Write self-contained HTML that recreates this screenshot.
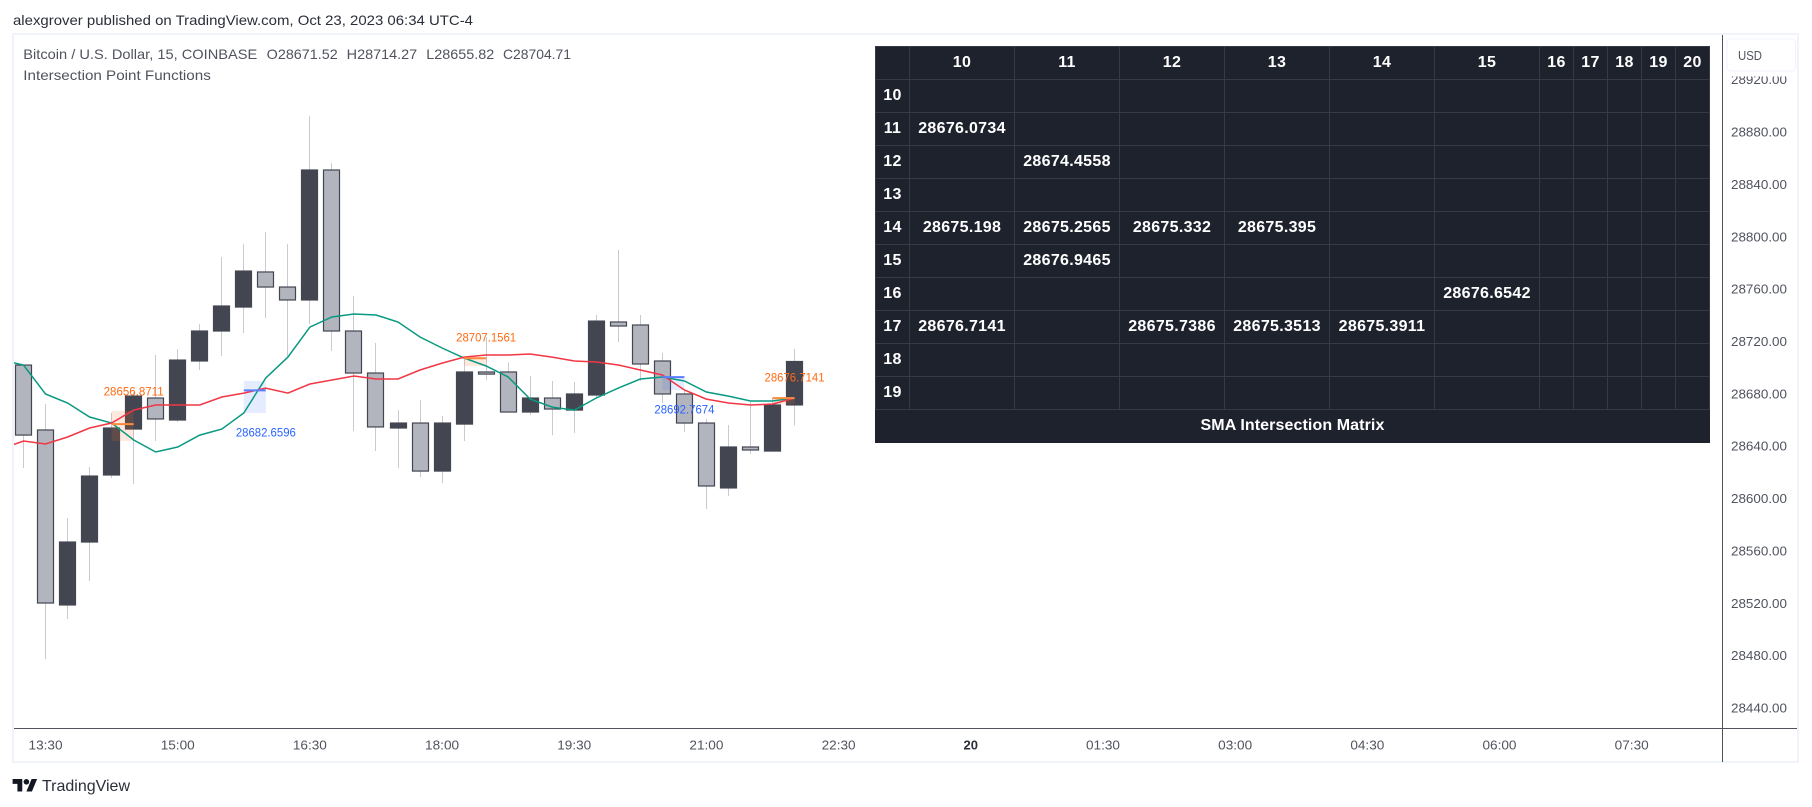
<!DOCTYPE html>
<html lang="en">
<head>
<meta charset="utf-8">
<title>Bitcoin / U.S. Dollar chart with SMA Intersection Matrix</title>
<style>
html,body{margin:0;padding:0;background:#fff;width:1812px;height:807px;overflow:hidden}
body{position:relative;font-family:"Liberation Sans",sans-serif}
#chart{position:absolute;left:0;top:0}
#matrix{position:absolute;left:875px;top:46px;width:834px;height:397px;border-collapse:collapse;table-layout:fixed;background:#1e222d;color:#fff;font:bold 16px "Liberation Sans",sans-serif;letter-spacing:.3px;text-align:center}
#matrix td{border:1px solid #363a45;padding:0;height:32px;line-height:32px;overflow:hidden;white-space:nowrap}
#matrix td.t{border-color:#1e222d;letter-spacing:.1px}
</style>
</head>
<body>
<svg id="chart" width="1812" height="807" viewBox="0 0 1812 807" xmlns="http://www.w3.org/2000/svg" font-family="'Liberation Sans',sans-serif">
  <text x="13" y="25" font-size="14" fill="#2a2e39" textLength="460" lengthAdjust="spacingAndGlyphs">alexgrover published on TradingView.com, Oct 23, 2023 06:34 UTC-4</text>
  <rect x="13" y="34" width="1785" height="728" fill="#fff" stroke="#f0f3fa" stroke-width="2"/>
  <g id="marks"></g>
  <g font-size="14" fill="#50535e">
    <text x="23.3" y="59" textLength="234" lengthAdjust="spacingAndGlyphs">Bitcoin / U.S. Dollar, 15, COINBASE</text>
    <text x="266.7" y="59" textLength="71" lengthAdjust="spacingAndGlyphs">O28671.52</text>
    <text x="346.7" y="59" textLength="70.5" lengthAdjust="spacingAndGlyphs">H28714.27</text>
    <text x="426.3" y="59" textLength="68" lengthAdjust="spacingAndGlyphs">L28655.82</text>
    <text x="503" y="59" textLength="68" lengthAdjust="spacingAndGlyphs">C28704.71</text>
    <text x="23.3" y="80" textLength="187.5" lengthAdjust="spacingAndGlyphs">Intersection Point Functions</text>
  </g>
  <line x1="1722.5" y1="35" x2="1722.5" y2="762" stroke="#50535e" stroke-width="1"/>
  <line x1="14" y1="728.5" x2="1797" y2="728.5" stroke="#50535e" stroke-width="1"/>
  <g id="priceAxis"></g>
  <g id="timeAxis"></g>
  <rect x="1724" y="71" width="72" height="5.5" fill="#fff"/>
  <rect x="1727" y="39" width="68.5" height="32" rx="4" fill="#fff" stroke="#f0f3fa" stroke-width="1"/>
  <text x="1738" y="60" font-size="13" fill="#50535e" textLength="24" lengthAdjust="spacingAndGlyphs">USD</text>
  <g>
    <path transform="translate(12.6 776.3) scale(.69)" fill="#131722" d="M14 22H7V11H0V4h14v18zM28 22h-8l7.5-18h8L28 22z"/>
    <circle cx="26.4" cy="781.8" r="2.8" fill="#131722"/>
    <text x="42" y="791" font-size="16" fill="#2a2e39" textLength="88" lengthAdjust="spacingAndGlyphs">TradingView</text>
  </g>
</svg>

<table id="matrix">
<colgroup><col style="width:34px"><col style="width:105px"><col style="width:105px"><col style="width:105px"><col style="width:105px"><col style="width:105px"><col style="width:105px"><col style="width:34px"><col style="width:34px"><col style="width:34px"><col style="width:34px"><col style="width:34px"></colgroup>
<tr><td></td><td>10</td><td>11</td><td>12</td><td>13</td><td>14</td><td>15</td><td>16</td><td>17</td><td>18</td><td>19</td><td>20</td></tr>
<tr><td>10</td><td></td><td></td><td></td><td></td><td></td><td></td><td></td><td></td><td></td><td></td><td></td></tr>
<tr><td>11</td><td>28676.0734</td><td></td><td></td><td></td><td></td><td></td><td></td><td></td><td></td><td></td><td></td></tr>
<tr><td>12</td><td></td><td>28674.4558</td><td></td><td></td><td></td><td></td><td></td><td></td><td></td><td></td><td></td></tr>
<tr><td>13</td><td></td><td></td><td></td><td></td><td></td><td></td><td></td><td></td><td></td><td></td><td></td></tr>
<tr><td>14</td><td>28675.198</td><td>28675.2565</td><td>28675.332</td><td>28675.395</td><td></td><td></td><td></td><td></td><td></td><td></td><td></td></tr>
<tr><td>15</td><td></td><td>28676.9465</td><td></td><td></td><td></td><td></td><td></td><td></td><td></td><td></td><td></td></tr>
<tr><td>16</td><td></td><td></td><td></td><td></td><td></td><td>28676.6542</td><td></td><td></td><td></td><td></td><td></td></tr>
<tr><td>17</td><td>28676.7141</td><td></td><td>28675.7386</td><td>28675.3513</td><td>28675.3911</td><td></td><td></td><td></td><td></td><td></td><td></td></tr>
<tr><td>18</td><td></td><td></td><td></td><td></td><td></td><td></td><td></td><td></td><td></td><td></td><td></td></tr>
<tr><td>19</td><td></td><td></td><td></td><td></td><td></td><td></td><td></td><td></td><td></td><td></td><td></td></tr>
<tr><td class="t" colspan="12">SMA Intersection Matrix</td></tr>
</table>

<script>
const opens  = [28702.0,28652.4,28518.7,28566.8,28618.0,28653.1,28676.8,28660.0,28705.1,28728.0,28746.3,28773.1,28761.6,28751.7,28851.0,28728.0,28695.9,28653.9,28657.7,28621.0,28656.9,28696.7,28696.7,28666.1,28676.8,28667.6,28679.1,28734.9,28732.6,28705.1,28679.9,28657.7,28608.1,28639.4,28636.3,28671.52];
const highs  = [28702.0,28672.2,28585.1,28624.1,28665.4,28681.4,28709.7,28714.2,28733.3,28784.5,28794.4,28803.6,28794.4,28892.2,28856.3,28754.7,28718.8,28667.6,28675.3,28663.1,28708.1,28723.4,28704.1,28693.6,28689.8,28689.0,28740.2,28789.9,28740.2,28711.2,28682.9,28660.8,28656.2,28673.8,28676.8,28714.27];
const lows   = [28623.3,28477.4,28508.0,28537.0,28615.7,28611.1,28644.0,28658.5,28698.2,28708.9,28726.5,28737.9,28708.9,28733.3,28712.7,28651.6,28636.3,28623.3,28616.5,28611.9,28644.0,28690.6,28666.1,28663.8,28648.5,28650.1,28677.0,28719.6,28689.8,28673.0,28650.8,28592.0,28601.9,28634.0,28636.3,28655.82];
const closes = [28648.5,28520.2,28566.8,28617.2,28653.9,28678.3,28660.8,28705.8,28728.0,28747.1,28773.8,28761.6,28751.7,28851.0,28728.0,28695.9,28654.7,28657.7,28621.0,28657.7,28696.7,28695.1,28666.1,28676.8,28668.4,28679.9,28735.6,28731.8,28702.8,28679.9,28657.7,28609.6,28639.4,28637.1,28671.5,28704.71];
const smaFast = [28705.8,28702.0,28679.9,28673.0,28662.3,28657.7,28644.7,28635.6,28639.4,28648.5,28653.1,28665.4,28692.1,28708.1,28731.0,28738.7,28741.0,28740.2,28734.9,28723.4,28715.0,28707.4,28701.3,28692.9,28676.0,28669.9,28667.6,28676.8,28684.4,28691.3,28692.9,28689.8,28681.4,28678.3,28674.5,28674.5,28676.8];
const smaSlow = [28637.9,28644.0,28641.7,28647.0,28653.9,28657.7,28667.6,28671.5,28671.5,28671.5,28677.6,28680.6,28684.4,28680.6,28687.5,28690.6,28693.6,28691.3,28691.3,28698.2,28703.5,28708.1,28709.7,28709.7,28710.4,28708.1,28705.1,28704.3,28702.0,28698.2,28694.4,28682.9,28676.0,28673.0,28671.5,28672.2,28676.8];
const crossBars   = [4,10,20,29,34];
const crossValues = [28656.8711,28682.6596,28707.1561,28692.7674,28676.7141];
const crossTops   = [28666.9,28689.8,28708.1,28693.6,28677.6];
const crossBottoms= [28644.0,28665.4,28701.3,28682.9,28672.2];
const crossKinds  = ['up','down','up','down','up'];
const priceTicks = [28920,28880,28840,28800,28760,28720,28680,28640,28600,28560,28520,28480,28440];
const timeLabels = ['13:30','15:00','16:30','18:00','19:30','21:00','22:30','20','01:30','03:00','04:30','06:00','07:30'];

const NS = 'http://www.w3.org/2000/svg';
function xOf(i){ return 23.5 + 22.03 * i; }
function yOf(p){ return 708 - (p - 28440) * 1.309; }
function make(parent, tag, attrs, txt){
  const el = document.createElementNS(NS, tag);
  for (const k in attrs) el.setAttribute(k, attrs[k]);
  if (txt !== undefined) el.textContent = txt;
  parent.appendChild(el);
  return el;
}
const marks = document.getElementById('marks');
const priceAxis = document.getElementById('priceAxis');
const timeAxis = document.getElementById('timeAxis');

opens.forEach(function(o, i){
  const wick = make(marks, 'line', {x1: Math.floor(xOf(i)) + .5, x2: Math.floor(xOf(i)) + .5, y1: yOf(highs[i]), y2: yOf(lows[i]), stroke: '#c9cacf', 'stroke-width': 1});
  
  
});
opens.forEach(function(o, i){
  const up = closes[i] >= o;
  const top = yOf(Math.max(o, closes[i]));
  const bottom = yOf(Math.min(o, closes[i]));
  const body = make(marks, 'rect', {x: Math.floor(xOf(i)) - 7.5, y: top, width: 16, height: Math.max(bottom - top, 1), fill: up ? '#434651' : '#b2b5be', stroke: '#434651', 'stroke-width': 1.2});
  
  
});
crossBars.forEach(function(b, i){
  const up = crossKinds[i] === 'up';
  const box = make(marks, 'rect', {x: xOf(b), y: yOf(crossTops[i]), width: xOf(b + 1) - xOf(b), height: yOf(crossBottoms[i]) - yOf(crossTops[i]), fill: up ? '#ff6d1f' : '#2962ff', 'fill-opacity': up ? .15 : .12});
  
  
});
function linePath(values){
  return values.map(function(v, i){ return xOf(i - 1).toFixed(1) + ',' + yOf(v).toFixed(1); }).join(' ');
}
const clip = make(marks, 'clipPath', {id: 'plotClip'});
make(clip, 'rect', {x: 14, y: 35, width: 1708, height: 693});
const fastLine = make(marks, 'polyline', {points: linePath(smaFast), fill: 'none', stroke: '#089981', 'stroke-width': 1.5, 'clip-path': 'url(#plotClip)'});


const slowLine = make(marks, 'polyline', {points: linePath(smaSlow), fill: 'none', stroke: '#f23645', 'stroke-width': 1.5, 'clip-path': 'url(#plotClip)'});


crossBars.forEach(function(b, i){
  const up = crossKinds[i] === 'up';
  const level = make(marks, 'line', {x1: xOf(b), x2: xOf(b + 1), y1: yOf(crossValues[i]), y2: yOf(crossValues[i]), stroke: up ? '#ff8a3d' : '#5b7fff', 'stroke-width': 2});
  
  
  const labelY = up ? yOf(crossTops[i]) - 15.5 : yOf(crossBottoms[i]) + 23.5;
  const label = make(marks, 'text', {x: xOf(b + 1), y: labelY, 'text-anchor': 'middle', 'font-size': 12, fill: up ? '#ff6a13' : '#2962ff', textLength: 60, lengthAdjust: 'spacingAndGlyphs'}, crossValues[i].toFixed(4));
  
  
});
priceTicks.forEach(function(p){
  const t = make(priceAxis, 'text', {x: 1731, y: yOf(p) + 4.5, 'font-size': 13, fill: '#50535e', textLength: 56, lengthAdjust: 'spacingAndGlyphs'}, p.toFixed(2));
  
  
});
timeLabels.forEach(function(lab, k){
  const isDay = lab.length < 3;
  const attrs = {x: xOf(1 + 6 * k), y: 749.5, 'text-anchor': 'middle', 'font-size': 13, fill: isDay ? '#2a2e39' : '#50535e', 'font-weight': isDay ? 'bold' : 'normal'};
  if (!isDay) { attrs.textLength = 34; attrs.lengthAdjust = 'spacingAndGlyphs'; }
  const t = make(timeAxis, 'text', attrs, lab);
  
  
});
</script>
</body>
</html>
